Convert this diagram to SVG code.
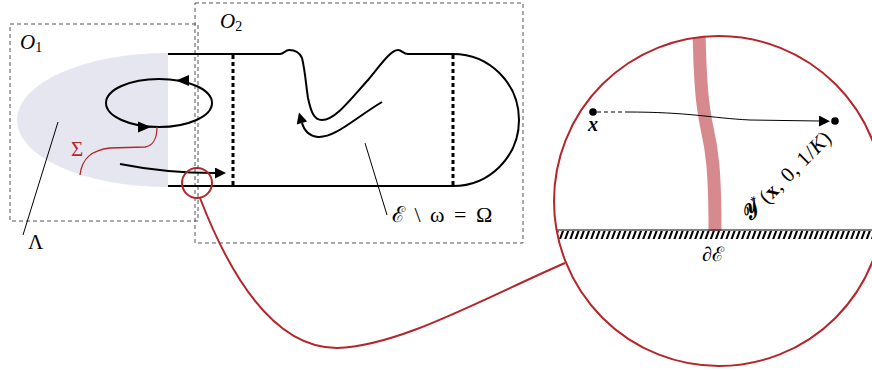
<svg xmlns="http://www.w3.org/2000/svg" width="872" height="370" viewBox="0 0 872 370">
<style>
.box{fill:none;stroke:#555;stroke-width:1;stroke-dasharray:4 3}
.blk{fill:none;stroke:#000;stroke-width:2}
.thin{fill:none;stroke:#000;stroke-width:1}
.red{fill:none;stroke:#b3262b;stroke-width:2}
.dot{fill:none;stroke:#000;stroke-width:3;stroke-dasharray:4 3}
.m{font-family:"Liberation Serif","DejaVu Serif",serif;fill:#000}
</style>
<defs>
<marker id="ah" viewBox="0 0 10 10" refX="0" refY="5" markerWidth="13" markerHeight="11" markerUnits="userSpaceOnUse" orient="auto">
<path d="M0,0 L10,5 L0,10 Z" fill="#000"/>
</marker>
<clipPath id="cc"><circle cx="719" cy="201" r="165"/></clipPath>
</defs>
<g id="region-O1">
<rect class="box" x="10" y="24" width="188" height="197"/>
<text class="m" x="20" y="49" font-size="21" font-style="italic">O<tspan font-size="14" font-style="normal" dy="3">1</tspan></text>
</g>
<g id="region-O2">
<rect class="box" x="195" y="3" width="328" height="240"/>
<text class="m" x="220" y="28" font-size="21" font-style="italic">O<tspan font-size="14" font-style="normal" dy="3">2</tspan></text>
</g>
<g id="ellipse-region">
<path d="M168,53 A151,67 0 0 0 168,187 Z" fill="#e5e6ef"/>
</g>
<g id="channel">
<path class="blk" d="M168,54 L280,54 C284,54 285,50 289,50 C294,50 299,51 302,58 C305,70 306,85 308,98 C311,112 314,120 322,120 C335,120 350,100 368,80 C382,63 391,50 398,50 C402,50 403,54 408,54 L453,54 A66,66 0 0 1 453,186 L168,186"/>
<line class="dot" x1="233" y1="55" x2="233" y2="186"/>
<line class="dot" x1="453" y1="55" x2="453" y2="186"/>
</g>
<g id="loop">
<ellipse class="blk" cx="159" cy="103" rx="53" ry="24"/>
<path d="M176,80.5 L189,75 L189,86 Z" fill="#000"/>
<path d="M151,127 L138,121.5 L138,132.5 Z" fill="#000"/>
</g>
<g id="connectors">
<path class="blk" d="M120,164 C160,172 190,173 215,173" marker-end="url(#ah)"/>
<path class="blk" d="M382,102 C355,118 335,138 318,137 C309,136 304,130 302,123" marker-end="url(#ah)"/>
<path fill="none" stroke="#b3262b" stroke-width="1.3" d="M80,175 C82,158 92,150 110,148 L145,147 C153,146 157,138 157,127"/>
<line class="thin" x1="58" y1="122" x2="23" y2="235"/>
<line class="thin" x1="365" y1="143" x2="387" y2="215"/>
<path class="red" d="M200,198 C222,255 265,348 337,348 C400,346 480,300 565,263"/>
</g>
<g id="labels">
<text class="m" x="71" y="156" font-size="21" style="fill:#b3262b">Σ</text>
<text class="m" x="28" y="249" font-size="21">Λ</text>
<text class="m" x="392" y="222" font-size="22" word-spacing="4">ℰ \ ω = Ω</text>
</g>
<g id="zoom-small">
<circle class="red" cx="197" cy="183" r="15"/>
</g>
<g id="zoom-big">
<g clip-path="url(#cc)">
<path d="M699,30 C700,80 702,105 707,128 C712,150 715,170 715,231" fill="none" stroke="#d78a8e" stroke-width="13"/>
<line x1="550" y1="230" x2="880" y2="230" stroke="#000" stroke-width="1.2"/>
<g transform="translate(0,235) skewX(-20)">
<line x1="550" y1="0" x2="880" y2="0" stroke="#000" stroke-width="8" stroke-dasharray="2.2 3"/>
</g>
</g>
<circle class="red" cx="719" cy="201" r="165" stroke-width="2.5"/>
<circle cx="593" cy="112" r="3.8" fill="#000"/>
<line x1="597" y1="112" x2="626" y2="112" stroke="#000" stroke-width="1" stroke-dasharray="4 3"/>
<path class="thin" d="M626,112 C690,112 710,118 750,120 L819,121" marker-end="url(#ah)"/>
<circle cx="835" cy="121" r="3.8" fill="#000"/>
<text class="m" x="593" y="131" font-size="20" font-weight="bold" font-style="italic" text-anchor="middle">x</text>
<text class="m" x="713" y="261" font-size="20" text-anchor="middle"><tspan font-style="italic">∂</tspan>ℰ</text>
<text class="m" font-size="21" letter-spacing="0.6" transform="translate(749,223) rotate(-45)"><tspan font-weight="bold" font-style="italic">𝒴</tspan><tspan font-size="13" dy="-8">*</tspan><tspan dy="8" dx="2">(</tspan><tspan font-weight="bold">x</tspan>, 0, 1/<tspan font-style="italic">K</tspan>)</text>
</g>
</svg>
